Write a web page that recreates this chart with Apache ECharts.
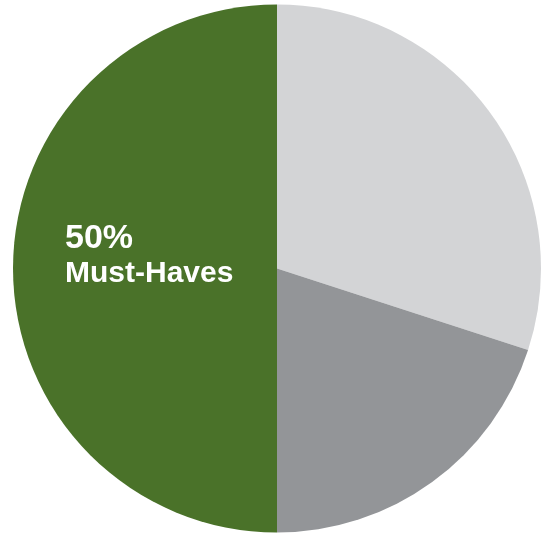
<!DOCTYPE html>
<html><head><meta charset="utf-8">
<script src="https://cdn.jsdelivr.net/npm/echarts@6/dist/echarts.min.js"></script>
<style>html,body{margin:0;padding:0;background:#fff}#c{width:541px;height:534px}</style>
</head><body><div id="c"></div>
<script>
const categories = ['Other A', 'Other B', 'Must-Haves'];
const values = [30, 20, 50];
const colors = ['#d3d4d6', '#939598', '#4a7229'];
const labelPct = '50%';
const labelName = 'Must-Haves';

const chart = echarts.init(document.getElementById('c'), null, {renderer: 'canvas'});
chart.setOption({
  animation: false,
  series: [{
    type: 'pie',
    center: [277, 268.5],
    radius: [0, 264],
    startAngle: 90,
    clockwise: true,
    label: {show: false},
    labelLine: {show: false},
    itemStyle: {borderWidth: 0},
    emphasis: {disabled: true},
    data: categories.map((c, i) => ({name: c, value: values[i], itemStyle: {color: colors[i]}}))
  }],
  graphic: [{
    type: 'text',
    z: 100,
    left: 65,
    top: 222,
    style: {
      text: labelPct,
      fontFamily: 'Liberation Sans, Arial',
      fontWeight: 'bold',
      fontSize: 34,
      fill: '#ffffff'
    }
  }, {
    type: 'text',
    z: 100,
    left: 65,
    top: 259,
    style: {
      text: labelName,
      fontFamily: 'Liberation Sans, Arial',
      fontWeight: 'bold',
      fontSize: 30,
      fill: '#ffffff'
    }
  }]
});
</script></body></html>
